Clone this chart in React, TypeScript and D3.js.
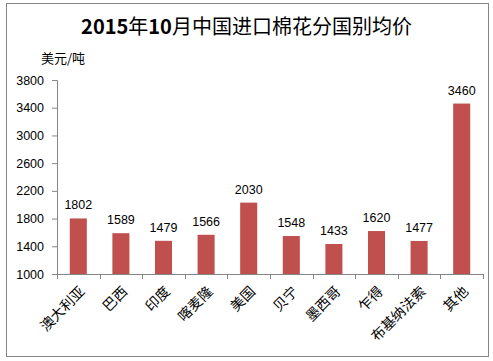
import { useEffect, useRef } from "react"
import * as d3 from "d3"

const categories = ["澳大利亚", "巴西", "印度", "喀麦隆", "美国", "贝宁", "墨西哥", "乍得", "布基纳法索", "其他"]
const prices = [1802, 1589, 1479, 1566, 2030, 1548, 1433, 1620, 1477, 3460]
const yTicks = [1000, 1400, 1800, 2200, 2600, 3000, 3400, 3800]

export default function App() {
  const ref = useRef<SVGSVGElement>(null)

  useEffect(() => {
    const svg = d3.select(ref.current)
    svg.selectAll("*").remove()

    const W = 493
    const left = 57, right = 483, top = 80, bottom = 274

    // outer frame
    svg.append("rect")
      .attr("x", 6.5).attr("y", 3.5)
      .attr("width", 482).attr("height", 353)
      .attr("fill", "#fff")
      .attr("stroke", "#868686")

    const title = svg.append("text")
      .attr("x", W / 2).attr("y", 34)
      .attr("text-anchor", "middle")
      .style("font-family", "'Noto Sans CJK SC', sans-serif")
      .style("font-size", "20px")
    title.append("tspan").style("font-weight", "bold").text("2015")
    title.append("tspan").text("年")
    title.append("tspan").style("font-weight", "bold").text("10")
    title.append("tspan").text("月中国进口棉花分国别均价")

    svg.append("text")
      .attr("x", 41).attr("y", 63)
      .style("font-family", "'Noto Sans CJK SC', sans-serif")
      .style("font-size", "13px")
      .text("美元/吨")

    const x = d3.scaleBand<string>()
      .domain(categories)
      .range([left, right])
      .paddingInner(0.6)
      .paddingOuter(0.3)

    const y = d3.scaleLinear()
      .domain([1000, 3800])
      .range([bottom, top])

    // y axis
    const yAxis = svg.append("g")
      .attr("transform", `translate(${left},0)`)
      .call(d3.axisLeft(y).tickValues(yTicks).tickSize(5).tickPadding(8).tickFormat(d3.format("d")))
    yAxis.select(".domain").attr("stroke", "#868686")
    yAxis.selectAll("line").attr("stroke", "#868686")
    yAxis.selectAll("text")
      .style("font-family", "'Liberation Sans', Arial, sans-serif")
      .style("font-size", "12.5px")
      .attr("fill", "#000")

    // x axis with boundary ticks
    const bounds = d3.range(categories.length + 1).map(i => left + i * (right - left) / categories.length)
    svg.append("line")
      .attr("x1", left).attr("x2", right)
      .attr("y1", bottom + 0.5).attr("y2", bottom + 0.5)
      .attr("stroke", "#868686")
    svg.selectAll(".xt").data(bounds).enter().append("line")
      .attr("x1", d => Math.round(d) + 0.5).attr("x2", d => Math.round(d) + 0.5)
      .attr("y1", bottom).attr("y2", bottom + 5)
      .attr("stroke", "#868686")

    svg.selectAll(".bar").data(prices).enter().append("rect")
      .attr("x", (d, i) => x(categories[i])!)
      .attr("width", x.bandwidth())
      .attr("y", d => y(d))
      .attr("height", d => bottom - y(d))
      .attr("fill", "#C0504D")

    svg.selectAll(".val").data(prices).enter().append("text")
      .attr("x", (d, i) => x(categories[i])! + x.bandwidth() / 2)
      .attr("y", d => y(d) - 9)
      .attr("text-anchor", "middle")
      .style("font-family", "'Liberation Sans', Arial, sans-serif")
      .style("font-size", "12.5px")
      .text(d => d)

    svg.selectAll(".cat").data(categories).enter().append("text")
      .attr("transform", d => `translate(${x(d)! + x.bandwidth() / 2 + 4},${bottom + 15}) rotate(-45)`)
      .attr("text-anchor", "end")
      .attr("dy", "0.35em")
      .style("font-family", "'Noto Sans CJK SC', sans-serif")
      .style("font-size", "14px")
      .text(d => d)
  }, [])

  return (
    <svg ref={ref} width={493} height={361}
      style={{ position: "absolute", left: 0, top: 0, background: "#fff" }} />
  )
}
